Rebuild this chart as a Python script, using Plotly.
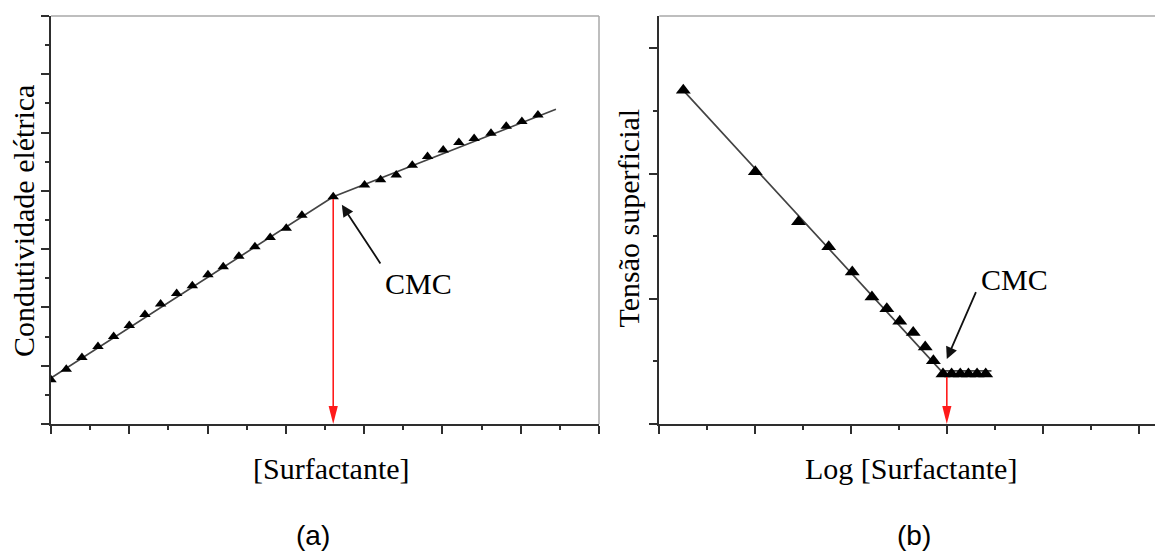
import plotly.graph_objects as go
from plotly.subplots import make_subplots

# (a) Electrical conductivity vs. surfactant concentration
cond_x = [0.0, 0.39, 0.79, 1.20, 1.60, 2.00, 2.40, 2.80, 3.21, 3.61, 4.01, 4.40,
          4.80, 5.21, 5.60, 6.01, 6.41, 7.21, 8.01, 8.42, 8.82, 9.23, 9.62,
          10.02, 10.42, 10.81, 11.24, 11.63, 12.03, 12.44]
cond_y = [0.76, 0.94, 1.14, 1.33, 1.50, 1.69, 1.88, 2.06, 2.24, 2.37, 2.56, 2.70,
          2.88, 3.04, 3.20, 3.36, 3.58, 3.90, 4.10, 4.19, 4.27, 4.44, 4.59,
          4.70, 4.83, 4.90, 4.99, 5.11, 5.19, 5.30]
cond_fit_x = [0.0, 7.21, 12.9]
cond_fit_y = [0.79, 3.90, 5.40]
cmc_a = 7.21          # break point on the concentration axis
cmc_a_top = 3.86

# (b) Surface tension vs. log concentration
tens_x = [0.50, 2.00, 2.90, 3.53, 4.02, 4.43, 4.74, 5.01, 5.29, 5.54, 5.71,
          5.91, 6.09, 6.27, 6.44, 6.62, 6.80]
tens_y = [5.33, 4.03, 3.23, 2.83, 2.43, 2.03, 1.84, 1.64, 1.46, 1.23, 1.01,
          0.80, 0.80, 0.80, 0.80, 0.80, 0.80]
tens_fit_x = [0.50, 5.87, 6.92]
tens_fit_y = [5.33, 0.85, 0.85]
cmc_b = 5.99
cmc_b_top = 0.75

W, H = 1155, 552
AXIS = "#2e2e2e"
BORDER = "#a8a8a8"
SERIF = "Liberation Serif"

fig = make_subplots(rows=1, cols=2)

fig.add_trace(go.Scatter(x=cond_fit_x, y=cond_fit_y, mode="lines",
                         line=dict(color="#444444", width=1.7),
                         hoverinfo="skip", showlegend=False), 1, 1)
fig.add_trace(go.Scatter(x=cond_x, y=cond_y, mode="markers",
                         marker=dict(symbol="triangle-up", size=10, color="black"),
                         showlegend=False), 1, 1)
fig.add_trace(go.Scatter(x=tens_fit_x, y=tens_fit_y, mode="lines",
                         line=dict(color="#444444", width=1.7),
                         hoverinfo="skip", showlegend=False), 1, 2)
fig.add_trace(go.Scatter(x=tens_x, y=tens_y, mode="markers",
                         marker=dict(symbol="triangle-up", size=13, color="black"),
                         showlegend=False), 1, 2)

y_dom = [(H - 424) / H, (H - 16) / H]
common = dict(showgrid=False, zeroline=False, showticklabels=False,
              showline=True, linecolor=AXIS, linewidth=2,
              ticks="outside", ticklen=8, tickwidth=1.5, tickcolor=AXIS)

fig.update_xaxes(domain=[51 / W, 599 / W], range=[0, 14], dtick=2, tick0=0,
                 minor=dict(ticks="outside", ticklen=4, tickwidth=1.5,
                            tickcolor=AXIS, dtick=1),
                 **common, row=1, col=1)
fig.update_yaxes(domain=y_dom, range=[0, 7], dtick=1, tick0=0,
                 minor=dict(ticks="outside", ticklen=4, tickwidth=1.5,
                            tickcolor=AXIS, dtick=0.5),
                 **common, row=1, col=1)
fig.update_xaxes(domain=[659.3 / W, 1.0], range=[0, (W - 659.3) / 48], dtick=2, tick0=0,
                 minor=dict(ticks="outside", ticklen=4, tickwidth=1.5,
                            tickcolor=AXIS, dtick=1),
                 **common, row=1, col=2)
fig.update_yaxes(domain=y_dom, range=[0, 408 / 62.6], dtick=2, tick0=0,
                 minor=dict(ticks="outside", ticklen=4, tickwidth=1.5,
                            tickcolor=AXIS, dtick=1),
                 **common, row=1, col=2)

shapes = [
    # frame edges
    dict(type="line", xref="x domain", yref="y domain", x0=0, x1=1, y0=1, y1=1,
         line=dict(color=BORDER, width=1.5)),
    dict(type="line", xref="x domain", yref="y domain", x0=1, x1=1, y0=0, y1=1,
         line=dict(color=BORDER, width=1.5)),
    dict(type="line", xref="x2 domain", yref="y2 domain", x0=0, x1=1, y0=1, y1=1,
         line=dict(color=BORDER, width=1.5)),
    # red drop lines to the CMC
    dict(type="line", xref="x", yref="y", x0=cmc_a, x1=cmc_a, y0=cmc_a_top, y1=0.2,
         line=dict(color="#ff1a1a", width=1.6)),
    dict(type="path", xref="x", yref="y", xsizemode="pixel", ysizemode="pixel",
         xanchor=cmc_a, yanchor=0, path="M-4.6,18 L4.6,18 L0,0 Z",
         fillcolor="#ff1a1a", line=dict(width=0)),
    dict(type="line", xref="x2", yref="y2", x0=cmc_b, x1=cmc_b, y0=cmc_b_top, y1=0.2,
         line=dict(color="#ff1a1a", width=1.6)),
    dict(type="path", xref="x2", yref="y2", xsizemode="pixel", ysizemode="pixel",
         xanchor=cmc_b, yanchor=0, path="M-4.6,18 L4.6,18 L0,0 Z",
         fillcolor="#ff1a1a", line=dict(width=0)),
]

title_font = dict(family=SERIF, size=30, color="black")
label_font = dict(family="Liberation Sans", size=28, color="black")
annotations = [
    dict(text="Condutividade elétrica", xref="paper", yref="paper",
         x=23 / W, y=(H - 221) / H, textangle=-90, showarrow=False,
         xanchor="center", yanchor="middle", font=title_font),
    dict(text="Tensão superficial", xref="paper", yref="paper",
         x=627.5 / W, y=(H - 218) / H, textangle=-90, showarrow=False,
         xanchor="center", yanchor="middle", font=title_font),
    dict(text="[Surfactante]", xref="paper", yref="paper",
         x=331 / W, y=(H - 468) / H, showarrow=False,
         xanchor="center", yanchor="middle", font=title_font),
    dict(text="Log [Surfactante]", xref="paper", yref="paper",
         x=911 / W, y=(H - 468) / H, showarrow=False,
         xanchor="center", yanchor="middle", font=title_font),
    dict(text="(a)", xref="paper", yref="paper",
         x=313 / W, y=(H - 535) / H, showarrow=False,
         xanchor="center", yanchor="middle", font=label_font),
    dict(text="(b)", xref="paper", yref="paper",
         x=914 / W, y=(H - 535) / H, showarrow=False,
         xanchor="center", yanchor="middle", font=label_font),
    # CMC labels and pointers
    dict(text="CMC", xref="x", yref="y", x=9.38, y=2.41, showarrow=False,
         font=title_font),
    dict(text="", xref="x", yref="y", axref="x", ayref="y",
         x=7.43, y=3.76, ax=8.44, ay=2.73, showarrow=True,
         arrowhead=2, arrowsize=1.3, arrowwidth=1.8, arrowcolor="#111111"),
    dict(text="CMC", xref="x2", yref="y2", x=7.41, y=2.31, showarrow=False,
         font=title_font),
    dict(text="", xref="x2", yref="y2", axref="x2", ayref="y2",
         x=5.99, y=1.04, ax=6.61, ay=2.13, showarrow=True,
         arrowhead=2, arrowsize=1.3, arrowwidth=1.8, arrowcolor="#111111"),
]

fig.update_layout(width=W, height=H, margin=dict(l=0, r=0, t=0, b=0),
                  paper_bgcolor="white", plot_bgcolor="white",
                  shapes=shapes, annotations=annotations, showlegend=False)

fig.write_html("out.html")
